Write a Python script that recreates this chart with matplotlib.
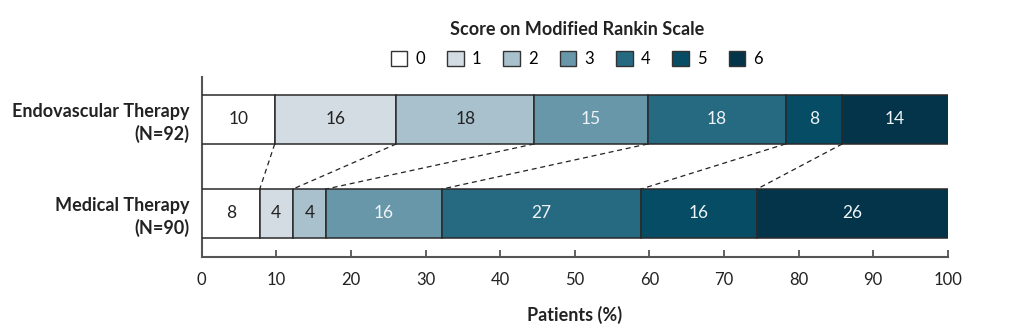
import numpy as np
import matplotlib.pyplot as plt
from matplotlib.patches import Patch

plt.rcParams['font.family'] = ['Lato', 'DejaVu Sans']

scores = ['0', '1', '2', '3', '4', '5', '6']
colors = ['#ffffff', '#d3dce3', '#a8c1cd', '#6997aa', '#266a82', '#064c65', '#03344a']
text_colors = ['#222222', '#222222', '#222222', '#eef4f7', '#eef4f7', '#eef4f7', '#eef4f7']

groups = ['Endovascular Therapy\n(N=92)', 'Medical Therapy\n(N=90)']
n_patients = [92, 90]
# patients per mRS score, 0..6
endo_counts = [9, 15, 17, 14, 17, 7, 13]
medical_counts = [7, 4, 4, 14, 24, 14, 23]

pct = [100 * np.array(endo_counts) / n_patients[0],
       100 * np.array(medical_counts) / n_patients[1]]
ypos = [1, 0]
bar_h = 0.52

fig = plt.figure(figsize=(10.24, 3.32), dpi=100)
ax = fig.add_axes([0.197, 0.226, 0.7285, 0.542])

for y, p in zip(ypos, pct):
    left = np.concatenate([[0], np.cumsum(p)[:-1]])
    ax.barh(y, p, left=left, height=bar_h, color=colors,
            edgecolor='#2a2a2a', linewidth=1.1, zorder=3)
    for l, w, tc in zip(left, p, text_colors):
        ax.text(l + w / 2, y, f'{round(w):d}', ha='center', va='center',
                fontsize=12.5, color=tc, zorder=4)

# dashed links between matching category boundaries
top_edges = np.cumsum(pct[0])[:-1]
bot_edges = np.cumsum(pct[1])[:-1]
for xt, xb in zip(top_edges, bot_edges):
    ax.plot([xt, xb], [ypos[0] - bar_h / 2, ypos[1] + bar_h / 2],
            ls=(0, (4, 3)), color='#222222', lw=0.9, zorder=2)

ax.set_xlim(0, 100)
ax.set_ylim(-0.463, 1.452)
ax.set_xticks(np.arange(0, 101, 10))
ax.set_yticks(ypos)
ax.set_yticklabels(groups, fontsize=13, fontweight='bold', color='#222222',
                   ha='right', linespacing=1.3)
ax.tick_params(axis='y', length=0, pad=9)
ax.tick_params(axis='x', direction='in', length=5, width=1.3, color='#555555',
               labelsize=12, labelcolor='#222222', pad=11)
for s in ['top', 'right']:
    ax.spines[s].set_visible(False)
for s in ['left', 'bottom']:
    ax.spines[s].set_color('#555555')
    ax.spines[s].set_linewidth(1.5)
ax.set_xlabel('Patients (%)', fontsize=13, fontweight='bold', color='#222222',
              labelpad=13)

handles = [Patch(facecolor=c, edgecolor='#333333', linewidth=1.0) for c in colors]
leg = ax.legend(handles, scores, ncol=7, loc='lower center',
                bbox_to_anchor=(0.503, 1.02), frameon=False,
                title='Score on Modified Rankin Scale',
                title_fontproperties={'weight': 'bold', 'size': 13},
                fontsize=12, handlelength=1.0, handleheight=1.0,
                handletextpad=0.5, columnspacing=1.3, labelspacing=0.75,
                borderaxespad=0)
leg.get_title().set_color('#222222')

fig.savefig('out.png', dpi=100)
